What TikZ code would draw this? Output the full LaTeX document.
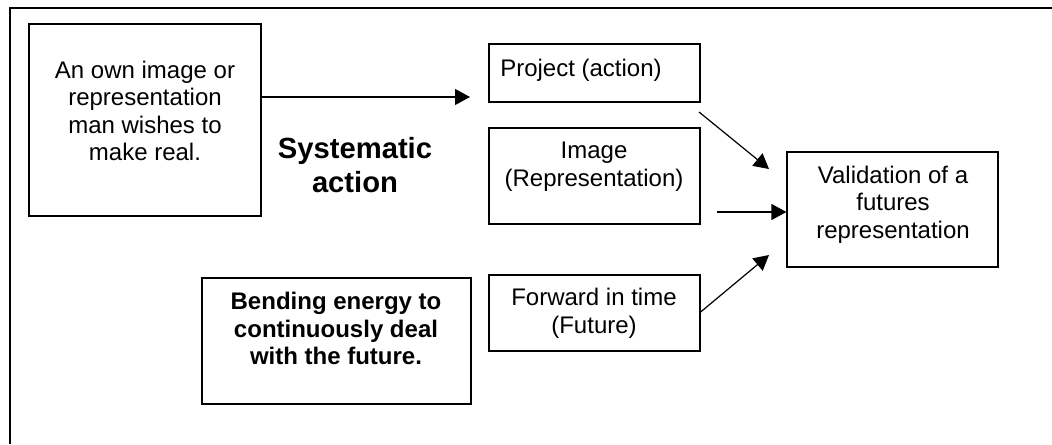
\documentclass[tikz,border=0pt]{standalone}
\usepackage{fontspec}
\setmainfont{Liberation Sans}
\usetikzlibrary{arrows.meta}
\begin{document}
\begin{tikzpicture}[x=0.5pt,y=-0.5pt,
  box/.style={draw,line width=0.6pt,inner sep=0pt},
  txt/.style={align=center,inner sep=0pt,font=\fontsize{12}{13.8}\selectfont},
  bold/.style={txt,font=\fontsize{12}{13.8}\selectfont\bfseries},
  big/.style={align=center,inner sep=0pt,font=\fontsize{14.6}{16.8}\selectfont\bfseries},
  conn/.style={line width=0.6pt,-{Triangle[length=7.5pt,width=8pt]}}]
\useasboundingbox (0,0) rectangle (1052,444);
% frame around the figure (top and left edges)
\draw[line width=1pt] (10,444) -- (10,8) -- (1052,8);

% left boxes
\draw[box] (29,24) rectangle (261,216);
\node[txt] (own) at (145,111) {An own image or\\representation\\man wishes to\\make real.};
\coordinate (ownR) at (261,97);
\node[big] (sys) at (355,165) {Systematic\\action};

\draw[box] (202,278) rectangle (471,404);
\node[bold,anchor=north] (bend) at (336,292) {Bending energy to\\continuously deal\\with the future.};

% middle column
\node[box,minimum width=105.5pt,minimum height=29pt] (proj) at (594.5,73) {};
\node[txt] (projT) at (581,70) {Project (action)};

\node[box,minimum width=105.5pt,minimum height=48pt] (img) at (594.5,176) {};
\node[txt] (imgT) at (594,167) {Image\\(Representation)};

\node[box,minimum width=105.5pt,minimum height=38pt] (fwd) at (594.5,313) {};
\node[txt] (fwdT) at (594,313) {Forward in time\\(Future)};

% target box
\node[box,minimum width=105.5pt,minimum height=57.5pt] (val) at (892.5,209.5) {};
\node[txt] (valT) at (893,204.5) {Validation of a\\futures\\representation};

% connectors
\coordinate (projIn) at (470,97);
\draw[conn] (ownR) -- (projIn);
\coordinate (a1s) at (699,112);
\coordinate (a1e) at (769,169);
\draw[conn] (a1s) -- (a1e);
\coordinate (a2s) at (717,212);
\draw[conn] (a2s) -- (val.west |- a2s);
\coordinate (a3e) at (769,255);
\draw[conn] (fwd.east |- 0,312) -- (a3e);
\end{tikzpicture}
\end{document}
